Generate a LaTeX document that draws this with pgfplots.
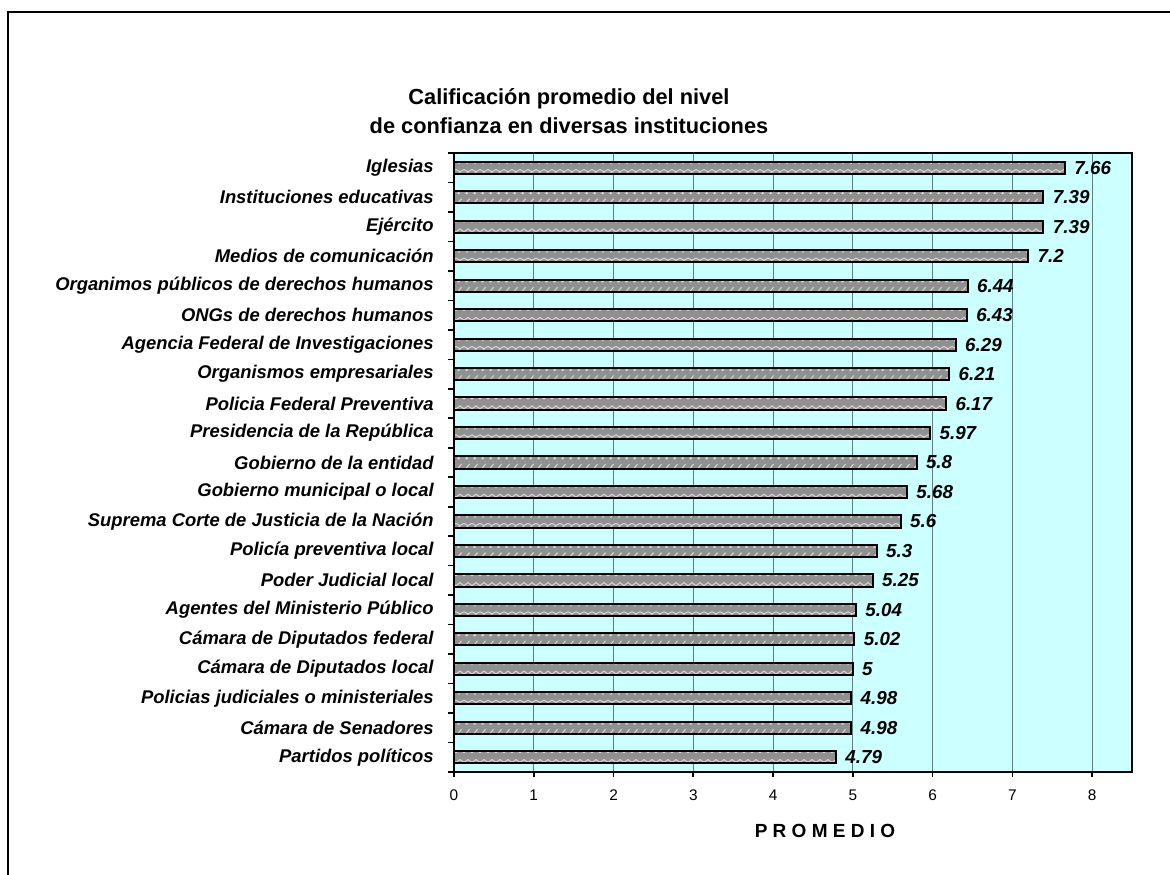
\documentclass[border=0pt]{standalone}
\usepackage{fontspec}
\setmainfont{Liberation Sans}
\usepackage{pgfplots}
\pgfplotsset{compat=1.18}
\usetikzlibrary{patterns}
\definecolor{bg}{HTML}{CCFFFF}
\definecolor{barg}{HTML}{909090}
\definecolor{gridc}{HTML}{5A7F7F}
\definecolor{patc}{HTML}{D8D8D8}

\pgfdeclarepatternformonly{zz}{\pgfqpoint{-0.5pt}{-0.5pt}}{\pgfqpoint{4.5pt}{5.4pt}}{\pgfqpoint{4pt}{4.9127pt}}{%
 \pgfsetlinewidth{0.5pt}%
 \pgfpathmoveto{\pgfqpoint{0pt}{1.7pt}}%
 \pgfpathlineto{\pgfqpoint{2pt}{3.2pt}}%
 \pgfpathlineto{\pgfqpoint{4pt}{1.7pt}}%
 \pgfusepath{stroke}}
\pgfdeclarepatternformonly{yy}{\pgfqpoint{-0.5pt}{-0.5pt}}{\pgfqpoint{4.5pt}{5.4pt}}{\pgfqpoint{4pt}{4.9127pt}}{%
 \pgfsetlinewidth{0.5pt}%
 \pgfpathmoveto{\pgfqpoint{0pt}{3.4pt}}%
 \pgfpathlineto{\pgfqpoint{2pt}{2.3pt}}%
 \pgfpathlineto{\pgfqpoint{4pt}{3.4pt}}%
 \pgfpathmoveto{\pgfqpoint{2pt}{2.3pt}}%
 \pgfpathlineto{\pgfqpoint{1.2pt}{1.2pt}}%
 \pgfusepath{stroke}}
\pgfdeclarepatternformonly{sl}{\pgfqpoint{-0.5pt}{-0.5pt}}{\pgfqpoint{4.5pt}{5.4pt}}{\pgfqpoint{4pt}{4.9127pt}}{%
 \pgfsetlinewidth{0.5pt}%
 \pgfpathmoveto{\pgfqpoint{0.8pt}{1.2pt}}%
 \pgfpathlineto{\pgfqpoint{2.8pt}{3.6pt}}%
 \pgfpathmoveto{\pgfqpoint{0.8pt}{1.2pt}}%
 \pgfpathlineto{\pgfqpoint{2pt}{1.4pt}}%
 \pgfusepath{stroke}}

\begin{document}
\begin{tikzpicture}
\useasboundingbox (0pt,0pt) rectangle (585pt,437pt);
\draw[line width=1pt] (4pt,-5pt) -- (4pt,431pt) -- (590pt,431pt);
\node[anchor=base, font=\bfseries\fontsize{10.9}{12}\selectfont] at (284.5pt,384.5pt) {Calificación promedio del nivel};
\node[anchor=base, font=\bfseries\fontsize{10.9}{12}\selectfont] at (284.5pt,370pt) {de confianza en diversas instituciones};
\node[anchor=base, font=\bfseries\fontsize{9.5}{11}\selectfont] at (412.5pt,18.5pt) {P R O M E D I O};
\begin{axis}[
 at={(227pt,51pt)}, anchor=south west,
 width=339pt, height=309.5pt, scale only axis,
 xbar, bar width=6.1pt,
 xmin=0, xmax=8.5, ymin=-0.5, ymax=20.5, y dir=reverse,
 xtick={0,...,8}, ytick={0,...,20},
 yticklabels={{Iglesias},{Instituciones educativas},{Ejército},{Medios de comunicación},{Organimos públicos de derechos humanos},{ONGs de derechos humanos},{Agencia Federal de Investigaciones},{Organismos empresariales},{Policia Federal Preventiva},{Presidencia de la República},{Gobierno de la entidad},{Gobierno municipal o local},{Suprema Corte de Justicia de la Nación},{Policía preventiva local},{Poder Judicial local},{Agentes del Ministerio Público},{Cámara de Diputados federal},{Cámara de Diputados local},{Policias judiciales o ministeriales},{Cámara de Senadores},{Partidos políticos}},
 minor ytick={-0.5,0.5,...,20.5},
 tick align=outside, tick pos=left,
 major tick length=2.5pt, minor tick length=3pt,
 every major y tick/.style={draw=none},
 xmajorgrids, grid style={gridc, line width=0.5pt},
 axis background/.style={fill=bg},
 axis line style={line width=0.9pt},
 tick style={black, line width=0.8pt},
 xticklabel style={font=\fontsize{7.7}{9}\selectfont, inner sep=0pt, yshift=-6pt},
 yticklabel style={font=\bfseries\itshape\fontsize{9.2}{10}\selectfont, inner sep=0pt, xshift=-7.5pt},
 /pgf/number format/assume math mode=true,
 nodes near coords,
 nodes near coords style={font=\bfseries\itshape\fontsize{9.4}{11}\selectfont, anchor=west, inner sep=0pt, xshift=4.2pt, black},
]
\addplot[bar shift=0pt, draw=black, line width=1pt, preaction={fill=barg}, pattern=yy, pattern color=patc] coordinates {(7.66,0) (7.2,3) (6.29,6) (5.97,9) (5.6,12) (5.04,15) (4.98,18)};
\addplot[bar shift=0pt, draw=black, line width=1pt, preaction={fill=barg}, pattern=sl, pattern color=patc] coordinates {(7.39,1) (6.44,4) (6.21,7) (5.8,10) (5.3,13) (5.02,16) (4.98,19)};
\addplot[bar shift=0pt, draw=black, line width=1pt, preaction={fill=barg}, pattern=zz, pattern color=patc] coordinates {(7.39,2) (6.43,5) (6.17,8) (5.68,11) (5.25,14) (5,17) (4.79,20)};
\end{axis}
\end{tikzpicture}
\end{document}
